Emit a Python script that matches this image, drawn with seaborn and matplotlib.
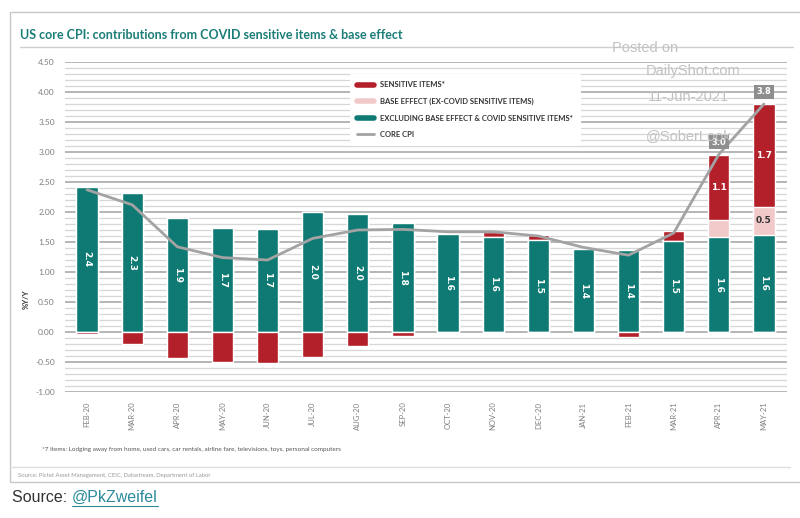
# US core CPI: contributions from COVID sensitive items & base effect
import numpy as np
import pandas as pd
import seaborn as sns
import matplotlib.pyplot as plt
from matplotlib.lines import Line2D
from matplotlib.patches import Rectangle
from matplotlib.ticker import MultipleLocator, FormatStrFormatter

# -----------------------------
# Data (% Y/Y)
# -----------------------------
months = ["FEB-20", "MAR-20", "APR-20", "MAY-20", "JUN-20", "JUL-20", "AUG-20", "SEP-20",
          "OCT-20", "NOV-20", "DEC-20", "JAN-21", "FEB-21", "MAR-21", "APR-21", "MAY-21"]
excl_base = [2.42, 2.31, 1.90, 1.74, 1.72, 2.00, 1.96, 1.81,
             1.63, 1.59, 1.54, 1.38, 1.37, 1.52, 1.58, 1.62]
base_effect = [0, 0, 0, 0, 0, 0, 0, 0,
               0, 0, 0, 0, 0, 0, 0.28, 0.47]
sensitive = [-0.04, -0.20, -0.44, -0.50, -0.51, -0.41, -0.23, -0.07,
             0.00, 0.08, 0.07, 0.00, -0.08, 0.16, 1.09, 1.71]
core_cpi = [2.37, 2.12, 1.42, 1.24, 1.20, 1.56, 1.70, 1.71,
            1.67, 1.67, 1.60, 1.41, 1.28, 1.65, 2.96, 3.80]

TEAL = "#0f7a74"
RED = "#b3202a"
PINK = "#f2c9c9"
LINE = "#a3a3a3"
GREY_TXT = "#7f7f7f"

df = pd.DataFrame({"month": months, "excl": excl_base,
                   "base": base_effect, "sens": sensitive, "cpi": core_cpi})
df["pos_sens"] = df["sens"].clip(lower=0)
df["neg_sens"] = df["sens"].clip(upper=0)
df["top_pink"] = df["excl"] + df["base"]
df["top_red"] = df["top_pink"] + df["pos_sens"]

# -----------------------------
# Figure
# -----------------------------
sns.set_style("white")
plt.rcParams["font.family"] = ["Lato", "DejaVu Sans"]

fig = plt.figure(figsize=(8, 5.18), dpi=100)
ax = fig.add_axes([64.5 / 800, 1 - 392 / 518, 722 / 800, 330 / 518])

# gridlines
ax.yaxis.set_major_locator(MultipleLocator(0.5))
ax.yaxis.set_minor_locator(MultipleLocator(0.1))
ax.yaxis.set_major_formatter(FormatStrFormatter("%.2f"))
ax.grid(which="major", axis="y", color="#b0b0b0", lw=1.3)
ax.grid(which="minor", axis="y", color="#d6d6d6", lw=0.9)
ax.set_axisbelow(True)

# stacked bars (drawn from the top segment down)
bw = 0.47
sns.barplot(data=df, x="month", y="top_red", color=RED, width=bw, saturation=1, ax=ax)
sns.barplot(data=df, x="month", y="top_pink", color=PINK, width=bw, saturation=1, ax=ax)
sns.barplot(data=df, x="month", y="excl", color=TEAL, width=bw, saturation=1, ax=ax)
sns.barplot(data=df, x="month", y="neg_sens", color=RED, width=bw, saturation=1, ax=ax)

# core CPI line
xs = np.arange(len(months))
sns.lineplot(x=xs, y=df["cpi"], color=LINE, lw=2, ax=ax, zorder=5)

# value labels
lbl = dict(ha="center", va="center", fontsize=6.5, fontweight="bold",
           family="DejaVu Sans", zorder=6)
for i, row in df.iterrows():
    ax.text(i, row["excl"] / 2, f"{row['excl']:.1f}", rotation=270, color="white", **lbl)
    if row["pos_sens"] > 0.5:
        ax.text(i, row["top_pink"] + row["pos_sens"] / 2, f"{row['pos_sens']:.1f}",
                color="white", **lbl)
    if row["base"] > 0.4:
        ax.text(i, row["excl"] + row["base"] / 2, f"{row['base']:.1f}", color="#333333", **lbl)
for i in [14, 15]:
    ax.text(i, df["cpi"][i] + 0.13, f"{df['cpi'][i]:.1f}", ha="center", va="bottom",
            color="white", fontsize=6, fontweight="bold", family="DejaVu Sans", zorder=7,
            bbox=dict(boxstyle="square,pad=0.3", fc="#8e8e8e", ec="none"))

ax.set_ylim(-1.0, 4.5)
ax.set_xlim(-0.5, len(months) - 0.5)
ax.set_xlabel("")
ax.set_ylabel("%Y/Y", fontsize=5.5, fontweight="bold", color="#333333")
ax.yaxis.set_label_coords(-0.048, 0.28)
ax.tick_params(axis="y", which="both", length=0, labelsize=6, labelcolor=GREY_TXT, pad=7)
ax.tick_params(axis="x", length=0, labelsize=5.5, labelcolor=GREY_TXT, pad=7)
ax.set_xticks(xs)
ax.set_xticklabels(months, rotation=90)
sns.despine(ax=ax, left=True, bottom=True)

# legend
handles = [Line2D([], [], color=RED, lw=4),
           Line2D([], [], color=PINK, lw=4),
           Line2D([], [], color=TEAL, lw=4),
           Line2D([], [], color=LINE, lw=2)]
labels = ["SENSITIVE ITEMS*", "BASE EFFECT (EX-COVID SENSITIVE ITEMS)",
          "EXCLUDING BASE EFFECT & COVID SENSITIVE ITEMS*", "CORE CPI"]
leg = ax.legend(handles, labels, loc="upper left", bbox_to_anchor=(0.395, 0.965),
                frameon=True, facecolor="white", edgecolor="none", framealpha=1,
                prop={"size": 5.5, "weight": "bold"}, labelcolor="#333333",
                handlelength=2.2, labelspacing=1.25, borderpad=1.0, handletextpad=0.8,
                borderaxespad=0.0)
leg.set_zorder(8)

# frame, title, notes
fig.patches.append(Rectangle((10 / 800, 1 - 482 / 518), 1, 470 / 518, transform=fig.transFigure,
                             fill=False, ec="#c8c8c8", lw=1))
fig.add_artist(Line2D([20 / 800, 793 / 800], [1 - 47 / 518] * 2, color="#cfcfcf", lw=1))
fig.add_artist(Line2D([10 / 800, 790 / 800], [1 - 467 / 518] * 2, color="#dedede", lw=1))
fig.text(20 / 800, 1 - 39 / 518, "US core CPI: contributions from COVID sensitive items & base effect",
         color="#1b7d78", fontsize=9.0, fontweight="bold", va="baseline")
fig.text(42 / 800, 1 - 449 / 518,
         "*7 items: Lodging away from home, used cars, car rentals, airline fare, televisions, toys, personal computers",
         fontsize=4.6, color="#555555", va="center")
fig.text(18 / 800, 1 - 475 / 518,
         "Source: Pictet Asset Management, CEIC, Datastream, Department of Labor",
         fontsize=4.2, color="#999999", va="center")

# watermark
wm = dict(color="#c2c2c2", fontsize=10.5, family="Liberation Sans", va="center", zorder=10)
fig.text(612 / 800, 1 - 48 / 518, "Posted on", **wm)
fig.text(646 / 800, 1 - 71 / 518, "DailyShot.com", **wm)
fig.text(648 / 800, 1 - 97 / 518, "11-Jun-2021", **wm)
fig.text(646 / 800, 1 - 136 / 518, "@SoberLook", **wm)

# page source line
src = fig.text(12 / 800, 1 - 497 / 518, "Source: ", fontsize=11.5, color="#333333",
               family="Liberation Sans", va="center")
fig.canvas.draw()
bb = src.get_window_extent()
link = fig.text(bb.x1 / 800, 1 - 497 / 518, "@PkZweifel", fontsize=11.5, color="#2b8a9c",
                family="Liberation Sans", va="center")
fig.canvas.draw()
lb = link.get_window_extent()
fig.add_artist(Line2D([lb.x0 / 800, lb.x1 / 800], [(lb.y0 - 1) / 518] * 2, color="#2b8a9c", lw=0.8))

fig.savefig("out.png", dpi=100)
